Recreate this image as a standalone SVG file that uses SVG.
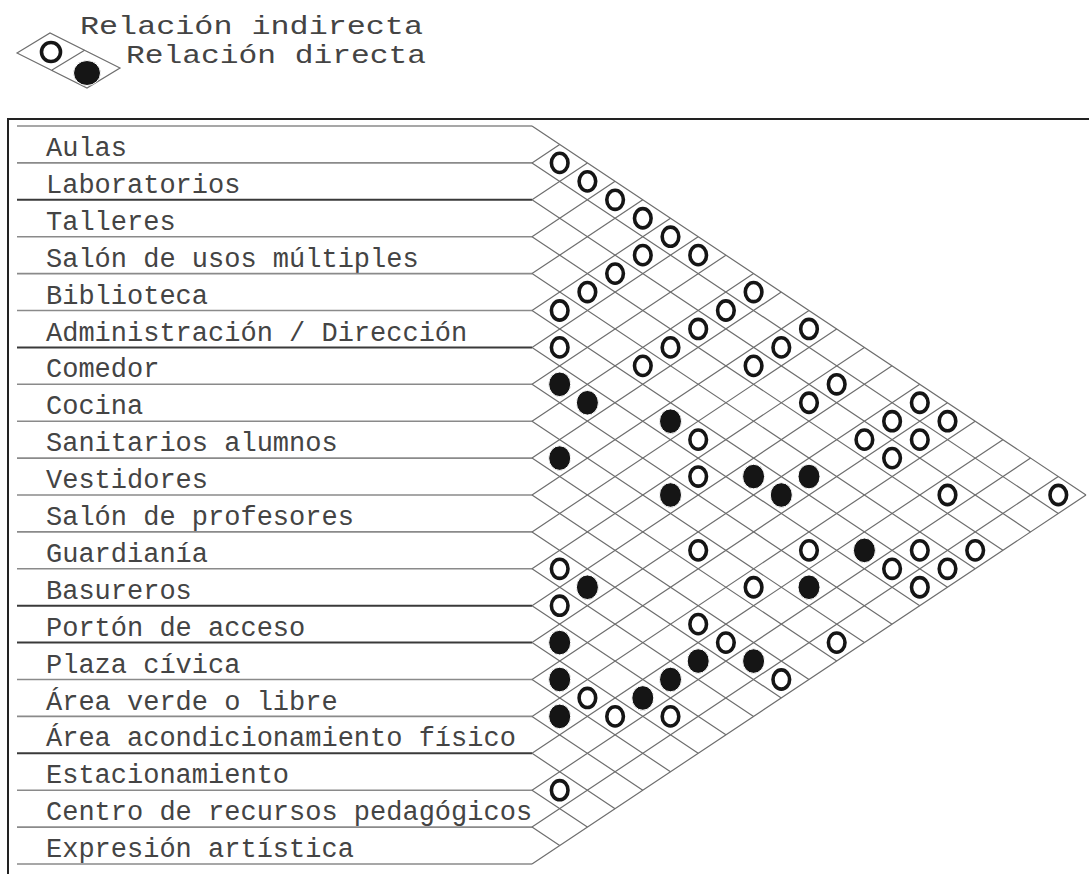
<svg xmlns="http://www.w3.org/2000/svg" width="1089" height="874" viewBox="0 0 1089 874">
<style>
.bg{fill:#fff}
.frame{fill:none;stroke:#222;stroke-width:2}
.hl{stroke:#8a8a8a;stroke-width:1.6;fill:none}
.hd{stroke:#3a3a3a;stroke-width:2;fill:none}
.grid{stroke:#6e6e6e;stroke-width:1.2;fill:none}
.lbl{font-family:"Liberation Mono","Courier New",monospace;font-size:27px;fill:#444}
.leg{font-family:"Liberation Mono","Courier New",monospace;font-size:26px;fill:#444}
.o{fill:#fff;stroke:#151515;stroke-width:3.6}
.f{fill:#151515;stroke:#fff;stroke-width:1}
</style>
<rect class="bg" x="0" y="0" width="1089" height="874"/>

<g id="legend">
<path class="grid" d="M17 53 L50 33 L120 68 L87 88 Z M85 50 L52 70"/>
<ellipse class="o" cx="51" cy="52" rx="9.5" ry="9.5"/>
<ellipse class="f" cx="87" cy="73" rx="13.5" ry="12.5"/>
<text class="leg" x="80" y="34" textLength="343" lengthAdjust="spacingAndGlyphs">Relación indirecta</text>
<text class="leg" x="126" y="63" textLength="300" lengthAdjust="spacingAndGlyphs">Relación directa</text>
</g>

<path class="frame" d="M8 119 H1090 M8 118 V875"/>

<g id="rows">
<path class="hl" d="M17 126H532"/>
<g id="row-aulas"><text class="lbl" x="46" y="156">Aulas</text><path class="hl" d="M17 162.9H532"/></g>
<g id="row-laboratorios"><text class="lbl" x="46" y="192.9">Laboratorios</text><path class="hd" d="M17 199.8H532"/></g>
<g id="row-talleres"><text class="lbl" x="46" y="229.8">Talleres</text><path class="hl" d="M17 236.7H532"/></g>
<g id="row-salon-usos"><text class="lbl" x="46" y="266.7">Salón de usos múltiples</text><path class="hl" d="M17 273.6H532"/></g>
<g id="row-biblioteca"><text class="lbl" x="46" y="303.6">Biblioteca</text><path class="hl" d="M17 310.5H532"/></g>
<g id="row-administracion"><text class="lbl" x="46" y="340.5">Administración / Dirección</text><path class="hd" d="M17 347.4H532"/></g>
<g id="row-comedor"><text class="lbl" x="46" y="377.4">Comedor</text><path class="hl" d="M17 384.3H532"/></g>
<g id="row-cocina"><text class="lbl" x="46" y="414.3">Cocina</text><path class="hl" d="M17 421.2H532"/></g>
<g id="row-sanitarios"><text class="lbl" x="46" y="451.2">Sanitarios alumnos</text><path class="hl" d="M17 458.1H532"/></g>
<g id="row-vestidores"><text class="lbl" x="46" y="488.1">Vestidores</text><path class="hl" d="M17 495H532"/></g>
<g id="row-salon-profesores"><text class="lbl" x="46" y="525">Salón de profesores</text><path class="hl" d="M17 531.9H532"/></g>
<g id="row-guardiania"><text class="lbl" x="46" y="561.9">Guardianía</text><path class="hl" d="M17 568.8H532"/></g>
<g id="row-basureros"><text class="lbl" x="46" y="598.8">Basureros</text><path class="hd" d="M17 605.7H532"/></g>
<g id="row-porton"><text class="lbl" x="46" y="635.7">Portón de acceso</text><path class="hd" d="M17 642.6H532"/></g>
<g id="row-plaza"><text class="lbl" x="46" y="672.6">Plaza cívica</text><path class="hl" d="M17 679.5H532"/></g>
<g id="row-area-verde"><text class="lbl" x="46" y="709.5">Área verde o libre</text><path class="hl" d="M17 716.4H532"/></g>
<g id="row-area-fisico"><text class="lbl" x="46" y="746.4">Área acondicionamiento físico</text><path class="hd" d="M17 753.3H532"/></g>
<g id="row-estacionamiento"><text class="lbl" x="46" y="783.3">Estacionamiento</text><path class="hl" d="M17 790.2H532"/></g>
<g id="row-centro-recursos"><text class="lbl" x="46" y="820.2">Centro de recursos pedagógicos</text><path class="hl" d="M17 827.1H532"/></g>
<g id="row-expresion"><text class="lbl" x="46" y="857.1">Expresión artística</text><path class="hl" d="M17 864H532"/></g>
</g>

<g id="connectors">
<path class="grid" d="M532 162.9l27.7 -18.45 M532 199.8l55.4 -36.9 M532 236.7l83.1 -55.35 M532 273.6l110.8 -73.8 M532 310.5l138.5 -92.25 M532 347.4l166.2 -110.7 M532 384.3l193.9 -129.15 M532 421.2l221.6 -147.6 M532 458.1l249.3 -166.05 M532 495l277 -184.5 M532 531.9l304.7 -202.95 M532 568.8l332.4 -221.4 M532 605.7l360.1 -239.85 M532 642.6l387.8 -258.3 M532 679.5l415.5 -276.75 M532 716.4l443.2 -295.2 M532 753.3l470.9 -313.65 M532 790.2l498.6 -332.1 M532 827.1l526.3 -350.55 M532 864l554 -369"/>
<path class="grid" d="M532 126l554 369 M532 162.9l526.3 350.55 M532 199.8l498.6 332.1 M532 236.7l470.9 313.65 M532 273.6l443.2 295.2 M532 310.5l415.5 276.75 M532 347.4l387.8 258.3 M532 384.3l360.1 239.85 M532 421.2l332.4 221.4 M532 458.1l304.7 202.95 M532 495l277 184.5 M532 531.9l249.3 166.05 M532 568.8l221.6 147.6 M532 605.7l193.9 129.15 M532 642.6l166.2 110.7 M532 679.5l138.5 92.25 M532 716.4l110.8 73.8 M532 753.3l83.1 55.35 M532 790.2l55.4 36.9 M532 827.1l27.7 18.45"/>
</g>

<g id="indirect" class="o">
<ellipse cx="559.7" cy="162.9" rx="8.3" ry="9.6"/>
<ellipse cx="587.4" cy="181.35" rx="8.3" ry="9.6"/>
<ellipse cx="615.1" cy="199.8" rx="8.3" ry="9.6"/>
<ellipse cx="642.8" cy="218.25" rx="8.3" ry="9.6"/>
<ellipse cx="670.5" cy="236.7" rx="8.3" ry="9.6"/>
<ellipse cx="698.2" cy="255.15" rx="8.3" ry="9.6"/>
<ellipse cx="642.8" cy="255.15" rx="8.3" ry="9.6"/>
<ellipse cx="615.1" cy="273.6" rx="8.3" ry="9.6"/>
<ellipse cx="587.4" cy="292.05" rx="8.3" ry="9.6"/>
<ellipse cx="753.6" cy="292.05" rx="8.3" ry="9.6"/>
<ellipse cx="559.7" cy="310.5" rx="8.3" ry="9.6"/>
<ellipse cx="725.9" cy="310.5" rx="8.3" ry="9.6"/>
<ellipse cx="698.2" cy="328.95" rx="8.3" ry="9.6"/>
<ellipse cx="670.5" cy="347.4" rx="8.3" ry="9.6"/>
<ellipse cx="809" cy="328.95" rx="8.3" ry="9.6"/>
<ellipse cx="559.7" cy="347.4" rx="8.3" ry="9.6"/>
<ellipse cx="781.3" cy="347.4" rx="8.3" ry="9.6"/>
<ellipse cx="642.8" cy="365.85" rx="8.3" ry="9.6"/>
<ellipse cx="753.6" cy="365.85" rx="8.3" ry="9.6"/>
<ellipse cx="836.7" cy="384.3" rx="8.3" ry="9.6"/>
<ellipse cx="809" cy="402.75" rx="8.3" ry="9.6"/>
<ellipse cx="919.8" cy="402.75" rx="8.3" ry="9.6"/>
<ellipse cx="892.1" cy="421.2" rx="8.3" ry="9.6"/>
<ellipse cx="947.5" cy="421.2" rx="8.3" ry="9.6"/>
<ellipse cx="698.2" cy="439.65" rx="8.3" ry="9.6"/>
<ellipse cx="864.4" cy="439.65" rx="8.3" ry="9.6"/>
<ellipse cx="919.8" cy="439.65" rx="8.3" ry="9.6"/>
<ellipse cx="892.1" cy="458.1" rx="8.3" ry="9.6"/>
<ellipse cx="698.2" cy="476.55" rx="8.3" ry="9.6"/>
<ellipse cx="947.5" cy="495" rx="8.3" ry="9.6"/>
<ellipse cx="1058.3" cy="495" rx="8.3" ry="9.6"/>
<ellipse cx="698.2" cy="550.35" rx="8.3" ry="9.6"/>
<ellipse cx="809" cy="550.35" rx="8.3" ry="9.6"/>
<ellipse cx="919.8" cy="550.35" rx="8.3" ry="9.6"/>
<ellipse cx="975.2" cy="550.35" rx="8.3" ry="9.6"/>
<ellipse cx="559.7" cy="568.8" rx="8.3" ry="9.6"/>
<ellipse cx="892.1" cy="568.8" rx="8.3" ry="9.6"/>
<ellipse cx="947.5" cy="568.8" rx="8.3" ry="9.6"/>
<ellipse cx="753.6" cy="587.25" rx="8.3" ry="9.6"/>
<ellipse cx="919.8" cy="587.25" rx="8.3" ry="9.6"/>
<ellipse cx="559.7" cy="605.7" rx="8.3" ry="9.6"/>
<ellipse cx="698.2" cy="624.15" rx="8.3" ry="9.6"/>
<ellipse cx="725.9" cy="642.6" rx="8.3" ry="9.6"/>
<ellipse cx="836.7" cy="642.6" rx="8.3" ry="9.6"/>
<ellipse cx="781.3" cy="679.5" rx="8.3" ry="9.6"/>
<ellipse cx="587.4" cy="697.95" rx="8.3" ry="9.6"/>
<ellipse cx="615.1" cy="716.4" rx="8.3" ry="9.6"/>
<ellipse cx="670.5" cy="716.4" rx="8.3" ry="9.6"/>
<ellipse cx="559.7" cy="790.2" rx="8.3" ry="9.6"/>
</g>

<g id="direct" class="f">
<ellipse cx="559.7" cy="384.3" rx="11" ry="12.3"/>
<ellipse cx="587.4" cy="402.75" rx="11" ry="12.3"/>
<ellipse cx="670.5" cy="421.2" rx="11" ry="12.3"/>
<ellipse cx="559.7" cy="458.1" rx="11" ry="12.3"/>
<ellipse cx="753.6" cy="476.55" rx="11" ry="12.3"/>
<ellipse cx="809" cy="476.55" rx="11" ry="12.3"/>
<ellipse cx="670.5" cy="495" rx="11" ry="12.3"/>
<ellipse cx="781.3" cy="495" rx="11" ry="12.3"/>
<ellipse cx="864.4" cy="550.35" rx="11" ry="12.3"/>
<ellipse cx="587.4" cy="587.25" rx="11" ry="12.3"/>
<ellipse cx="809" cy="587.25" rx="11" ry="12.3"/>
<ellipse cx="559.7" cy="642.6" rx="11" ry="12.3"/>
<ellipse cx="698.2" cy="661.05" rx="11" ry="12.3"/>
<ellipse cx="753.6" cy="661.05" rx="11" ry="12.3"/>
<ellipse cx="559.7" cy="679.5" rx="11" ry="12.3"/>
<ellipse cx="670.5" cy="679.5" rx="11" ry="12.3"/>
<ellipse cx="642.8" cy="697.95" rx="11" ry="12.3"/>
<ellipse cx="559.7" cy="716.4" rx="11" ry="12.3"/>
</g>
</svg>
